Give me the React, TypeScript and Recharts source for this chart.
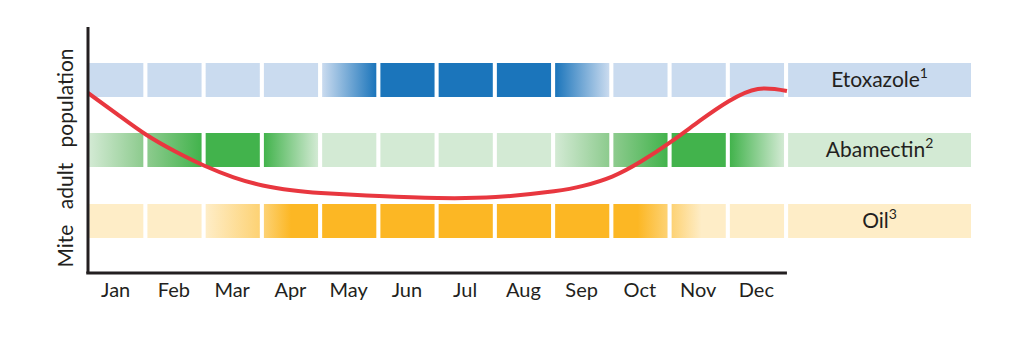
import React from 'react';
import { ComposedChart, Line, XAxis, YAxis, ReferenceArea, ReferenceLine } from 'recharts';

const months = ['Jan', 'Feb', 'Mar', 'Apr', 'May', 'Jun', 'Jul', 'Aug', 'Sep', 'Oct', 'Nov', 'Dec'];

// treatment intensity per month, "from-to" means a fade inside the month
const etoxazoleCells = ['light', 'light', 'light', 'light', 'light-dark', 'dark', 'dark', 'dark', 'dark-light', 'light', 'light', 'light'];
const abamectinCells = ['light-mid', 'mid-dark', 'dark', 'dark-light', 'light', 'light', 'light', 'light', 'light-mid', 'mid-dark', 'dark', 'dark-light'];
const oilCells = ['light', 'light', 'light-mid', 'mid-dark', 'dark', 'dark', 'dark', 'dark', 'dark', 'dark-mid', 'mid-light', 'light'];

// mite population curve (month position, relative population)
const curveMonth = [0, 0.5, 1, 1.5, 2, 2.5, 3, 3.5, 4, 5, 6, 7, 8, 8.5, 9, 9.5, 10, 10.5, 11, 11.5, 12];
const curvePopulation = [73.2, 64.6, 56.2, 49.4, 43.6, 38.9, 35.6, 33.6, 32.5, 31.3, 30.5, 30.9, 33.2, 35.4, 39.2, 45.4, 53.2, 61.8, 69.8, 74.8, 74];

const curveData = curveMonth.map((m, i) => ({ month: m, population: curvePopulation[i] }));

const rows = [
    { key: 'eto', name: 'Etoxazole', sup: '1', cells: etoxazoleCells, band: [71.5, 85.4],
      colors: { light: '#cadbef', mid: '#7aa8d8', dark: '#1b75bb' }, ramp: { default: [0, 1] } },
    { key: 'aba', name: 'Abamectin', sup: '2', cells: abamectinCells, band: [43.1, 56.9],
      colors: { light: '#d3ead4', mid: '#8dcb8e', dark: '#42b34c' }, ramp: { default: [0, 1] } },
    { key: 'oil', name: 'Oil', sup: '3', cells: oilCells, band: [14.2, 28],
      colors: { light: '#feedc7', mid: '#fdd274', dark: '#fcb724' },
      ramp: { default: [0, 1], 'mid-dark': [0, 0.5], 'dark-mid': [0.45, 1], 'mid-light': [0, 0.55] } },
];

const X_MAX = 15.16;
const CELL_START = 0.02;
const CELL_END = 0.95;
const TEXT = '#231f20';

const RowLabel = ({ viewBox, name, sup }: any) => {
    const cx = viewBox.x + viewBox.width / 2;
    const cy = viewBox.y + viewBox.height / 2;
    return (
        <text x={cx} y={cy + 7} textAnchor="middle" fill={TEXT} fontSize={21}>
            {name}
            <tspan dy={-9} fontSize={14}>{sup}</tspan>
        </text>
    );
};

const AxisTitle = ({ viewBox }: any) => {
    const x = viewBox.x + viewBox.width - 15;
    const y = viewBox.y + viewBox.height / 2 + 8;
    return (
        <text x={x} y={y} transform={`rotate(-90 ${x} ${y})`} textAnchor="middle" fill={TEXT} fontSize={21}
            style={{ wordSpacing: 10 }}>
            Mite adult population
        </text>
    );
};

export default function App() {
    return (
        <div style={{ position: 'absolute', left: 0, top: 0, fontFamily: 'Lato, sans-serif', background: '#fff' }}>
            <ComposedChart width={1024} height={357} data={curveData} margin={{ top: 27, right: 53, bottom: 54, left: 0 }}>
                <defs>
                    {rows.map((row) =>
                        Array.from(new Set(row.cells.concat('light'))).map((type) => {
                            const [from, to] = type.includes('-') ? type.split('-') : [type, type];
                            const [o1, o2] = (row.ramp as any)[type] || row.ramp.default;
                            return (
                                <linearGradient key={`${row.key}-${type}`} id={`${row.key}-${type}`} x1="0" y1="0" x2="1" y2="0">
                                    <stop offset={o1} stopColor={(row.colors as any)[from]} />
                                    <stop offset={o2} stopColor={(row.colors as any)[to]} />
                                </linearGradient>
                            );
                        })
                    )}
                </defs>
                <XAxis
                    dataKey="month"
                    type="number"
                    domain={[0, X_MAX]}
                    allowDataOverflow
                    ticks={months.map((_, i) => i + 0.475)}
                    tickFormatter={(v) => months[Math.floor(v)]}
                    axisLine={false}
                    tickLine={false}
                    tickMargin={4}
                    height={30}
                    tick={{ fill: TEXT, fontSize: 20 }}
                />
                <YAxis
                    domain={[0, 100]}
                    width={88}
                    tick={false}
                    tickLine={false}
                    axisLine={{ stroke: TEXT, strokeWidth: 3 }}
                    label={(props: any) => <AxisTitle {...props} />}
                />
                {rows.map((row) =>
                    row.cells.map((type, i) => (
                        <ReferenceArea
                            key={`${row.key}-${i}`}
                            x1={i + CELL_START}
                            x2={i + CELL_END}
                            y1={row.band[0]}
                            y2={row.band[1]}
                            fill={`url(#${row.key}-${type})`}
                            fillOpacity={1}
                            stroke="none"
                        />
                    ))
                )}
                {rows.map((row) => (
                    <ReferenceArea
                        key={`${row.key}-label`}
                        x1={months.length + CELL_START}
                        x2={X_MAX}
                        y1={row.band[0]}
                        y2={row.band[1]}
                        fill={row.colors.light}
                        fillOpacity={1}
                        stroke="none"
                        label={(props: any) => <RowLabel {...props} name={row.name} sup={row.sup} />}
                    />
                ))}
                <ReferenceLine
                    segment={[{ x: -0.03, y: 0 }, { x: months.length, y: 0 }]}
                    stroke={TEXT}
                    strokeWidth={3}
                    ifOverflow="visible"
                />
                <Line
                    type="natural"
                    dataKey="population"
                    stroke="#e8373f"
                    strokeWidth={4}
                    dot={false}
                    activeDot={false}
                    isAnimationActive={false}
                />
            </ComposedChart>
        </div>
    );
}
